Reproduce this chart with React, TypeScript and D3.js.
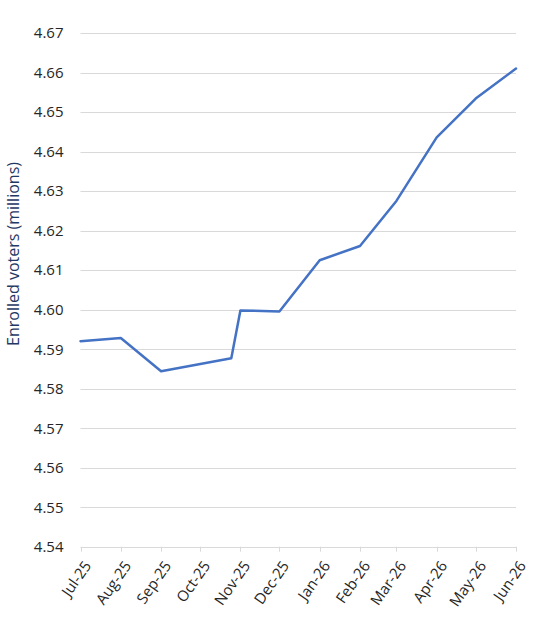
import React from "react";
import * as d3 from "d3";

const dates = [
  "2025-07-01", "2025-08-01", "2025-09-01", "2025-10-25", "2025-11-01", "2025-12-01",
  "2026-01-01", "2026-02-01", "2026-03-01", "2026-04-01", "2026-05-01", "2026-06-01",
];
const values = [4.592, 4.5928, 4.5844, 4.5877, 4.5998, 4.5995, 4.6125, 4.6161, 4.6275, 4.6436, 4.6534, 4.661];
const tickMonths = [
  "2025-07-01", "2025-08-01", "2025-09-01", "2025-10-01", "2025-11-01", "2025-12-01",
  "2026-01-01", "2026-02-01", "2026-03-01", "2026-04-01", "2026-05-01", "2026-06-01",
];
const yTicks = [4.54, 4.55, 4.56, 4.57, 4.58, 4.59, 4.6, 4.61, 4.62, 4.63, 4.64, 4.65, 4.66, 4.67];
const yTitle = "Enrolled voters (millions)";

const W = 541, H = 633;
const parse = d3.utcParse("%Y-%m-%d");
const fmtX = d3.utcFormat("%b-%y");

export default function App() {
  const x = d3.scaleUtc()
    .domain([parse(tickMonths[0])!, parse(tickMonths[tickMonths.length - 1])!])
    .range([80.5, 516]);
  const y = d3.scaleLinear().domain([4.54, 4.67]).range([546.7, 33]);
  const pts = dates.map((d, i) => [x(parse(d)!), y(values[i])] as [number, number]);
  const line = d3.line().curve(d3.curveLinear)(pts) || "";
  const font = "'Open Sans', sans-serif";
  const y0 = y(4.54);
  return (
    <div style={{ position: "absolute", left: 0, top: 0 }}>
      <svg width={W} height={H} style={{ display: "block", background: "#fff" }}>
        {yTicks.map((t) => (
          <g key={t}>
            <line x1={80.5} x2={516} y1={Math.round(y(t)) + 0.5} y2={Math.round(y(t)) + 0.5} stroke="#d9d9d9" strokeWidth={1} />
            <text x={63.5} y={y(t)} dy="0.36em" textAnchor="end" fontFamily={font} fontSize={15} fill="#262626">
              {t.toFixed(2)}
            </text>
          </g>
        ))}
        {tickMonths.map((m) => {
          const xx = Math.round(x(parse(m)!)) + 0.5;
          return (
            <g key={m}>
              <line x1={xx} x2={xx} y1={y0} y2={y0 + 5} stroke="#d9d9d9" strokeWidth={1} />
              <text
                transform={`translate(${xx + 6},${y0 + 16}) rotate(-55)`}
                textAnchor="end"
                dy="0.35em"
                fontFamily={font}
                fontSize={15}
                fill="#262626"
              >
                {fmtX(parse(m)!)}
              </text>
            </g>
          );
        })}
        <path d={line} fill="none" stroke="#4472C4" strokeWidth={2.5} strokeLinejoin="round" strokeLinecap="round" />
        <text
          transform={`translate(19,254) rotate(-90)`}
          textAnchor="middle"
          fontFamily={font}
          fontSize={16}
          fill="#1F3864"
        >
          {yTitle}
        </text>
      </svg>
    </div>
  );
}
